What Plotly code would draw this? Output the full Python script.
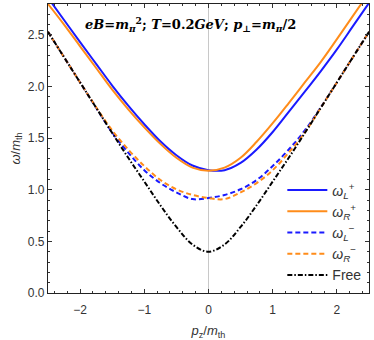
import plotly.graph_objects as go

# 데이터
pz = [-2.5, -2.25, -2.0, -1.75, -1.5, -1.25, -1.0, -0.75, -0.5, -0.25, 0.0,
      0.25, 0.5, 0.75, 1.0, 1.25, 1.5, 1.75, 2.0, 2.25, 2.5]

omega_L_plus = [2.86, 2.645, 2.43, 2.22, 2.01, 1.815, 1.635, 1.47, 1.335, 1.235, 1.19,
                1.19, 1.26, 1.39, 1.56, 1.755, 1.95, 2.15, 2.36, 2.585, 2.81]
omega_R_plus = [2.80, 2.60, 2.39, 2.18, 1.97, 1.78, 1.605, 1.445, 1.31, 1.215, 1.185,
                1.215, 1.31, 1.465, 1.645, 1.84, 2.04, 2.24, 2.46, 2.685, 2.91]
omega_L_minus = [2.53, 2.285, 2.04, 1.795, 1.555, 1.36, 1.19, 1.065, 0.975, 0.91, 0.92,
                 0.95, 1.005, 1.095, 1.23, 1.39, 1.575, 1.80, 2.04, 2.285, 2.53]
omega_R_minus = [2.53, 2.285, 2.04, 1.80, 1.575, 1.39, 1.23, 1.095, 1.005, 0.95, 0.92,
                 0.91, 0.975, 1.065, 1.19, 1.36, 1.555, 1.795, 2.04, 2.285, 2.53]
omega_free = [2.53, 2.285, 2.04, 1.795, 1.55, 1.31, 1.08, 0.85, 0.64, 0.47, 0.40,
              0.47, 0.64, 0.85, 1.08, 1.31, 1.55, 1.795, 2.04, 2.285, 2.53]

x_ticks = [-2, -1, 0, 1, 2]
x_ticklabels = ['\u22122', '\u22121', '0', '1', '2']
y_ticks = [0.0, 0.5, 1.0, 1.5, 2.0, 2.5]
y_ticklabels = ['0.0', '0.5', '1.0', '1.5', '2.0', '2.5']

BLUE = '#1a1aff'
ORANGE = '#ff8c1a'

fig = go.Figure()

# x=0 세로선
fig.add_vline(x=0, line=dict(color='#c8c8c8', width=1), layer='below')

series = [
    ('<i>ω</i><sub><i>L</i></sub><sup>+</sup>', omega_L_plus, BLUE, 'solid'),
    ('<i>ω</i><sub><i>R</i></sub><sup>+</sup>', omega_R_plus, ORANGE, 'solid'),
    ('<i>ω</i><sub><i>L</i></sub><sup>\u2212</sup>', omega_L_minus, BLUE, '5px,3px'),
    ('<i>ω</i><sub><i>R</i></sub><sup>\u2212</sup>', omega_R_minus, ORANGE, '5px,3px'),
    ('Free', omega_free, 'black', '5px,2px,1.5px,2px'),
]
for name, ys, color, dash in series:
    fig.add_trace(go.Scatter(
        x=pz, y=ys, name=name, mode='lines',
        line=dict(color=color, width=2, dash=dash, shape='spline', smoothing=1.0),
    ))

# 상단 조건 텍스트
fig.add_annotation(
    x=0.445, y=2.60, xref='paper', yref='y',
    text='<b><i>eB</i>=<i>m</i><sub><i>π</i></sub><sup>2</sup>; <i>T</i>=0.2<i>GeV</i>; '
         '<i>p</i><sub>⊥</sub>=<i>m</i><sub><i>π</i></sub>/2</b>',
    showarrow=False, font=dict(family='DejaVu Serif', size=13, color='black'),
)

axis_common = dict(
    showline=True, linecolor='#222222', linewidth=1.3, mirror='allticks',
    ticks='inside', ticklen=4, tickcolor='#333333', showgrid=False, zeroline=False,
    automargin=False,
    tickfont=dict(family='Liberation Sans', size=12, color='#333333'),
)

fig.update_layout(
    width=374, height=340,
    margin=dict(l=48, r=5, t=4, b=47),
    plot_bgcolor='white', paper_bgcolor='white',
    xaxis=dict(range=[-2.5, 2.5], tickvals=x_ticks, ticktext=x_ticklabels,
               ticklabelstandoff=5,
               minor=dict(ticks='inside', ticklen=2, dtick=0.2, tick0=0, tickcolor='#333333'),
               title=dict(text='<i>p</i><sub>z</sub>/<i>m</i><sub>th</sub>', standoff=13,
                          font=dict(family='Liberation Sans', size=13, color='#333333')),
               **axis_common),
    yaxis=dict(range=[0, 2.8], tickvals=y_ticks, ticktext=y_ticklabels,
               minor=dict(ticks='inside', ticklen=2, dtick=0.1, tick0=0, tickcolor='#333333'),
               title=dict(text='<i>ω</i>/<i>m</i><sub>th</sub>', standoff=4,
                          font=dict(family='Liberation Sans', size=13, color='#333333')),
               **axis_common),
    legend=dict(x=0.73, y=0.41, xanchor='left', yanchor='top', bgcolor='rgba(0,0,0,0)',
                font=dict(family='Liberation Sans', size=14, color='#333333'),
                itemwidth=40, tracegroupgap=0),
    showlegend=True,
)

# 브라우저 기본 body 여백 제거
fig.write_html("out.html", config={'displayModeBar': False},
               post_script="document.body.style.margin='0';")
